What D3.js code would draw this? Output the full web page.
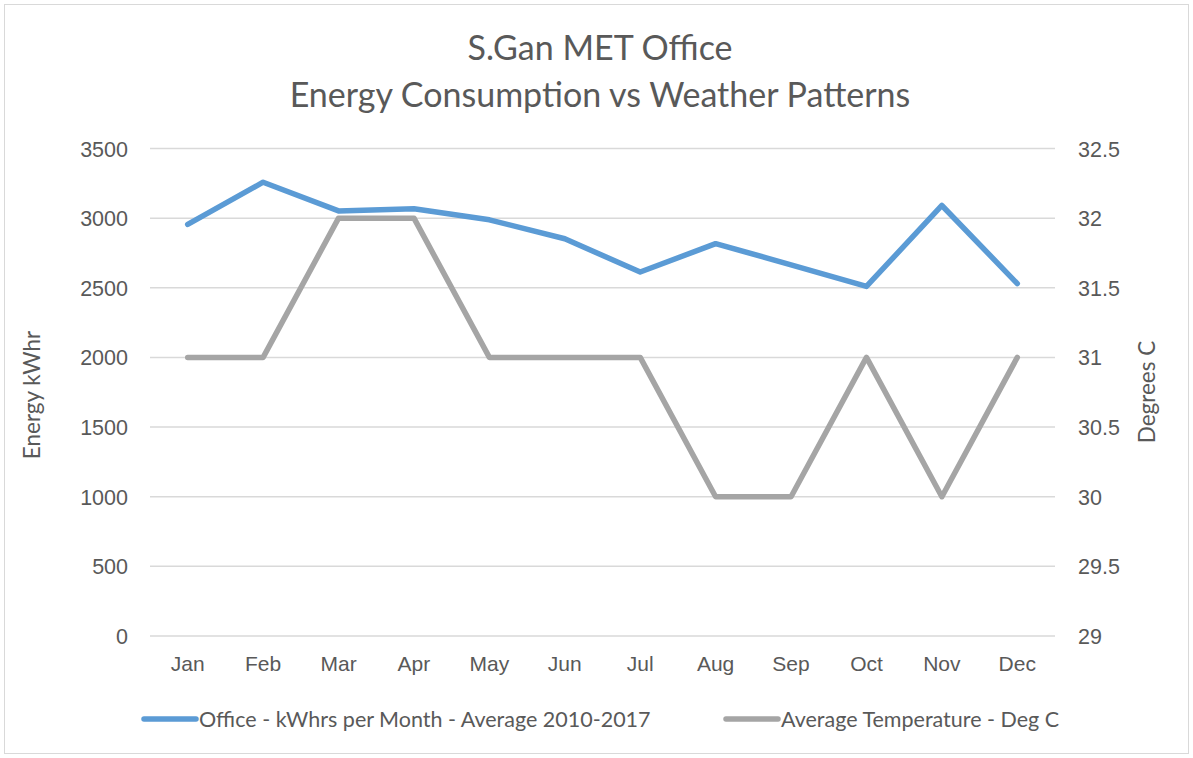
<!DOCTYPE html>
<html><head><meta charset="utf-8">
<script src="https://cdn.jsdelivr.net/npm/d3@7"></script>
<style>body{margin:0;background:#fff;}svg{display:block;font-family:Lato,"Open Sans",sans-serif;}</style>
</head><body>
<svg id="c" width="1193" height="758"></svg>
<script>
const months = ["Jan","Feb","Mar","Apr","May","Jun","Jul","Aug","Sep","Oct","Nov","Dec"];
const energy = [2955,3258,3052,3068,2988,2852,2613,2817,2665,2510,3091,2530];
const temperature = [31,31,32,32,31,31,31,30,30,31,30,31];
const leftTicks = [0,500,1000,1500,2000,2500,3000,3500];
const rightTicks = [29,29.5,30,30.5,31,31.5,32,32.5];
const seriesNames = ["Office - kWhrs per Month - Average 2010-2017","Average Temperature - Deg C"];
const titleLines = ["S.Gan MET Office","Energy Consumption vs Weather Patterns"];

const svg = d3.select("#c");
const W=1193,H=758;
const m={l:150,r:1055,t:148.5,b:636};
const textCol="#595959";

svg.append("rect").attr("x",4.5).attr("y",4.5).attr("width",W-9).attr("height",H-9)
  .attr("fill","#fff").attr("stroke","#d9d9d9").attr("stroke-width",1);

const x = d3.scaleBand().domain(months).range([m.l,m.r]);
const yL = d3.scaleLinear().domain([0,3500]).range([m.b,m.t]);
const yR = d3.scaleLinear().domain([29,32.5]).range([m.b,m.t]);

// gridlines
svg.append("g").selectAll("line").data(leftTicks).join("line")
  .attr("x1",m.l).attr("x2",m.r).attr("y1",d=>yL(d)).attr("y2",d=>yL(d))
  .attr("stroke","#d9d9d9").attr("stroke-width",1.5);

// left axis
const gl = svg.append("g").attr("transform",`translate(${m.l},0)`)
  .call(d3.axisLeft(yL).tickValues(leftTicks).tickSize(0).tickPadding(22).tickFormat(d3.format("d")));
gl.select(".domain").remove();
gl.selectAll("text").attr("fill",textCol).style("font-size","21.5px").attr("dy","0.35em");

// right axis
const gr = svg.append("g").attr("transform",`translate(${m.r},0)`)
  .call(d3.axisRight(yR).tickValues(rightTicks).tickSize(0).tickPadding(23).tickFormat(d=>String(d)));
gr.select(".domain").remove();
gr.selectAll("text").attr("fill",textCol).style("font-size","21.5px").attr("dy","0.35em");

// x axis
const gx = svg.append("g").attr("transform",`translate(0,${m.b})`)
  .call(d3.axisBottom(x).tickSize(0).tickPadding(20));
gx.select(".domain").remove();
gx.selectAll("text").attr("fill",textCol).style("font-size","21px");

// lines
const lineE = d3.line().x((d,i)=>x(months[i])+x.bandwidth()/2).y(d=>yL(d));
const lineT = d3.line().x((d,i)=>x(months[i])+x.bandwidth()/2).y(d=>yR(d));
svg.append("path").datum(temperature).attr("d",lineT).attr("fill","none")
  .attr("stroke","#a5a5a5").attr("stroke-width",5.5).attr("stroke-linecap","round").attr("stroke-linejoin","round");
svg.append("path").datum(energy).attr("d",lineE).attr("fill","none")
  .attr("stroke","#5b9bd5").attr("stroke-width",5.5).attr("stroke-linecap","round").attr("stroke-linejoin","round");

// title
svg.append("g").selectAll("text").data(titleLines).join("text")
  .attr("x",600).attr("y",(d,i)=>60+i*47).attr("text-anchor","middle")
  .attr("fill",textCol).style("font-size","34px").text(d=>d);

// axis titles
svg.append("text").attr("transform","translate(40,395) rotate(-90)").attr("text-anchor","middle")
  .attr("fill",textCol).style("font-size","22.5px").text("Energy kWhr");
svg.append("text").attr("transform","translate(1155,392) rotate(-90)").attr("text-anchor","middle")
  .attr("fill",textCol).style("font-size","22.5px").text("Degrees C");

// legend
const leg = [{x:142,c:"#5b9bd5"},{x:724,c:"#a5a5a5"}];
const lg = svg.append("g").selectAll("g").data(seriesNames).join("g")
  .attr("transform",(d,i)=>`translate(${leg[i].x},719)`);
lg.append("line").attr("x1",2).attr("x2",54).attr("stroke",(d,i)=>leg[i].c)
  .attr("stroke-width",5.5).attr("stroke-linecap","round");
lg.append("text").attr("x",57).attr("dy","0.35em").attr("fill",textCol).style("font-size","21.5px").text(d=>d);
</script>
</body></html>
